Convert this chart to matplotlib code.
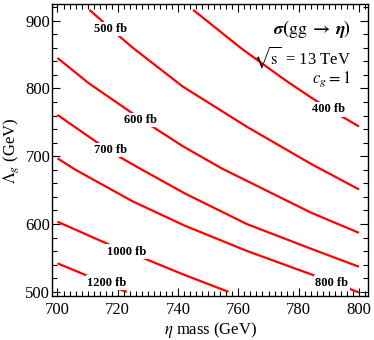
import matplotlib
matplotlib.use('Agg')
import matplotlib.pyplot as plt
from matplotlib.ticker import MultipleLocator

plt.rcParams['font.family'] = ['Liberation Serif', 'DejaVu Serif']
plt.rcParams['mathtext.fontset'] = 'stix'

# Contours of sigma(gg -> eta) (eta mass in GeV, Lambda_g in GeV)
x_400 = [745, 761, 775, 784, 793, 800]
y_400 = [916, 859, 814, 787, 762, 744]

x_500 = [710.6, 720, 725, 741.5, 763, 784, 800]
y_500 = [916, 879, 860, 803, 743, 689, 651]

x_600 = [700, 710.3, 724, 730.7, 741.5, 754.5, 784, 800]
y_600 = [845, 808, 766, 746, 715, 682, 617, 587]

x_700 = [700, 713.6, 720.8, 728.5, 742.3, 762.8, 783.8, 800]
y_700 = [761, 719, 698.5, 679, 645, 600, 564, 537]

x_800 = [700, 706, 724.7, 742, 763, 784, 796.5, 800]
y_800 = [697, 680, 634, 598, 560, 526, 505, 499]

x_1000 = [700, 717.5, 730, 741.5, 756.7]
y_1000 = [603.4, 569, 547, 526, 500]

x_1200 = [700, 710.3, 721.3, 723]
y_1200 = [542, 523, 502.5, 500]

contour_names = ['400 fb', '500 fb', '600 fb', '700 fb', '800 fb', '1000 fb', '1200 fb']
# where each inline label sits
label_x = [789.8, 717.5, 727.4, 717.5, 791.0, 723.0, 716.4]
label_y = [769.4, 887.6, 753.6, 709.3, 513.3, 559.0, 513.3]

xs = [x_400, x_500, x_600, x_700, x_800, x_1000, x_1200]
ys = [y_400, y_500, y_600, y_700, y_800, y_1000, y_1200]

fig = plt.figure(figsize=(3.74, 3.40), dpi=100)
ax = fig.add_axes([0.140, 0.129, 0.844, 0.858])

for x, y in zip(xs, ys):
    ax.plot(x, y, color='red', lw=1.6, solid_capstyle='butt', zorder=2)

for name, lx, ly in zip(contour_names, label_x, label_y):
    ax.text(lx, ly, name, fontsize=9, fontweight='bold', ha='center', va='center',
            bbox=dict(fc='white', ec='none', pad=1.0), zorder=3)

ax.set_xlim(698.3, 803)
ax.set_ylim(493.6, 924)

ax.xaxis.set_major_locator(MultipleLocator(20))
ax.xaxis.set_minor_locator(MultipleLocator(2))
ax.yaxis.set_major_locator(MultipleLocator(100))
ax.yaxis.set_minor_locator(MultipleLocator(20))
ax.tick_params(which='both', direction='in', top=True, right=True, labelsize=12, width=0.8)
ax.tick_params(which='major', length=6)
ax.tick_params(which='minor', length=3.5)
ax.tick_params(axis='x', pad=4)
ax.tick_params(axis='y', pad=1.5)
for s in ax.spines.values():
    s.set_linewidth(1.0)

ax.set_xlabel(r'$\eta$ mass (GeV)', fontsize=12, labelpad=1.5)
ax.set_ylabel(r'$\Lambda_g$ (GeV)', fontsize=12, labelpad=3)

ax.text(0.946, 0.915, r'$\boldsymbol{\sigma(\mathrm{gg}\;\rightarrow\;\eta)}$', transform=ax.transAxes,
        fontsize=13, ha='right', va='center')
ax.text(0.946, 0.818, r'$\sqrt{\mathrm{s}}\,$ = 13 TeV', transform=ax.transAxes,
        fontsize=12, ha='right', va='center')
ax.text(0.946, 0.744, r'$c_g = 1$', transform=ax.transAxes,
        fontsize=12, ha='right', va='center')

fig.savefig('out.png', dpi=100)
